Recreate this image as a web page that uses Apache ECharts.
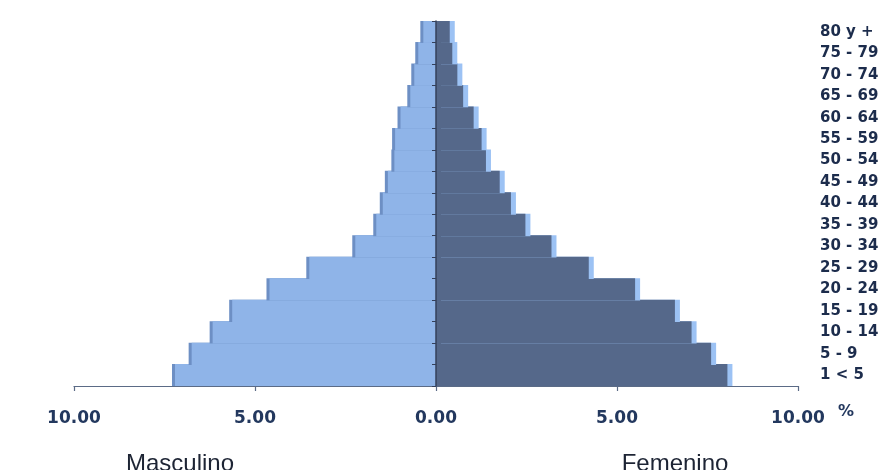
<!DOCTYPE html>
<html>
<head>
<meta charset="utf-8">
<script src="https://cdn.jsdelivr.net/npm/echarts@6/dist/echarts.min.js"></script>
<style>
html,body{margin:0;padding:0;background:#fff;}
#main{width:888px;height:470px;}
</style>
</head>
<body>
<div id="main"></div>
<script>
var categories = ['1 < 5','5 - 9','10 - 14','15 - 19','20 - 24','25 - 29','30 - 34','35 - 39','40 - 44','45 - 49','50 - 54','55 - 59','60 - 64','65 - 69','70 - 74','75 - 79','80 y +'];
var masculino = [7.21, 6.75, 6.17, 5.63, 4.60, 3.50, 2.23, 1.65, 1.47, 1.33, 1.15, 1.13, 0.98, 0.71, 0.60, 0.49, 0.35];
var femenino = [8.05, 7.60, 7.06, 6.60, 5.50, 4.22, 3.19, 2.47, 2.07, 1.76, 1.38, 1.26, 1.04, 0.75, 0.59, 0.45, 0.38];
var xTicks = [-10, -5, 0, 5, 10];

var chart = echarts.init(document.getElementById('main'));
var labelColor = '#23385e';
chart.setOption({
  animation: false,
  grid: {left: 74, right: 90, top: 21, bottom: 84, containLabel: false},
  xAxis: {
    type: 'value',
    min: xTicks[0], max: xTicks[xTicks.length - 1], interval: 5,
    axisLine: {show: true, lineStyle: {color: '#5b6b86', width: 1.2}},
    axisTick: {show: true, length: 5, lineStyle: {color: '#5b6b86', width: 1.2}},
    splitLine: {show: false},
    axisLabel: {
      margin: 24,
      color: labelColor,
      fontFamily: 'DejaVu Sans',
      fontWeight: 'bold',
      fontSize: 17,
      formatter: function (v) { return Math.abs(v).toFixed(2); }
    }
  },
  yAxis: [{
    type: 'category',
    data: categories,
    position: 'left',
    axisLine: {show: true, onZero: true, lineStyle: {color: '#34405a', width: 1.5}},
    axisTick: {show: true, length: 4, lineStyle: {color: '#34405a'}},
    axisLabel: {show: false},
    splitLine: {show: false},
    z: 10
  }, {
    type: 'category',
    data: categories,
    position: 'right',
    axisLine: {show: false},
    axisTick: {show: false},
    splitLine: {show: false},
    axisLabel: {
      margin: 22,
      color: '#1c2c4c',
      fontFamily: 'DejaVu Sans',
      fontWeight: 'bold',
      fontSize: 15,
      align: 'left'
    }
  }],
  series: [{
    name: 'Masculino',
    type: 'bar',
    yAxisIndex: 0,
    barWidth: '104%',
    barGap: '-100%',
    data: masculino.map(function (v) { return -v; }),
    itemStyle: {
      color: '#8fb4e8',
      shadowColor: '#6d8fc4',
      shadowOffsetX: -3,
      shadowBlur: 0
    }
  }, {
    name: 'Femenino',
    type: 'bar',
    yAxisIndex: 0,
    barWidth: '104%',
    barGap: '-100%',
    data: femenino,
    itemStyle: {
      color: '#55688a',
      shadowColor: '#9cc2f4',
      shadowOffsetX: 5,
      shadowBlur: 0
    }
  }],
  graphic: [{
    type: 'text', left: 838, top: 404,
    style: {text: '%', fill: labelColor, font: 'bold 16px "DejaVu Sans"'}
  }, {
    type: 'text', x: 180, y: 476,
    style: {text: 'Masculino', fill: '#1d2434', font: '24px "Liberation Sans"', align: 'center', verticalAlign: 'bottom'}
  }, {
    type: 'text', x: 675, y: 476,
    style: {text: 'Femenino', fill: '#1d2434', font: '24px "Liberation Sans"', align: 'center', verticalAlign: 'bottom'}
  }]
});
</script>
</body>
</html>
